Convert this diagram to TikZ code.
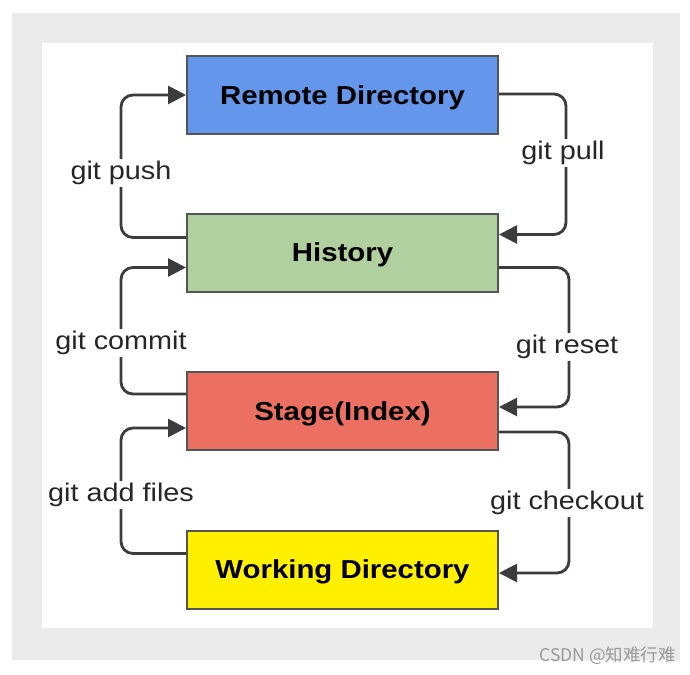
\documentclass[tikz,border=0pt]{standalone}
\usepackage{fontspec}
\setmainfont{Liberation Sans}
\newfontfamily\lab[FakeStretch=1.13]{Liberation Sans}
\newfontfamily\cjk{Noto Sans CJK SC}
\usetikzlibrary{arrows.meta}
\definecolor{bgrey}{HTML}{EBEBEB}
\definecolor{cblue}{HTML}{6496EB}
\definecolor{cgreen}{HTML}{B0D0A0}
\definecolor{cred}{HTML}{EB7062}
\definecolor{cyellow}{HTML}{FFF000}
\definecolor{cborder}{HTML}{555555}
\definecolor{cline}{HTML}{3C3C3C}
\tikzset{
  box/.style={draw=cborder, line width=2pt, minimum width=311pt, minimum height=78pt,
    inner sep=0pt, text height=18.6pt, text depth=0pt,
    font={\lab\bfseries\fontsize{26}{30}\selectfont}},
  arr/.style={draw=cline, line width=2.8pt, rounded corners=12pt,
    -{Triangle[length=18pt,width=18pt]}},
  lbl/.style={fill=white, inner sep=2pt, font={\lab\fontsize{25.5}{30}\selectfont}, text=black!85}
}
\begin{document}
\begin{tikzpicture}[x=1pt,y=-1pt]
\useasboundingbox (0,0) rectangle (690,674);
\fill[bgrey] (12,13) rectangle (680,660);
\fill[white] (42,43) rectangle (653,628);

\node[box, fill=cblue]   (remote) at (342.5,95)    {Remote Directory};
\node[box, fill=cgreen]  (hist)   at (342.5,252.5) {History};
\node[box, fill=cred]    (stage)  at (342.5,411)   {Stage(Index)};
\node[box, fill=cyellow] (work)   at (342.5,569.5) {Working Directory};

% left side
\draw[arr] ([yshift=15pt]hist.west) -- ++(-65,0) |- (remote.west);
\draw[arr] ([yshift=17pt]stage.west) -- ++(-65,0) |- ([yshift=-15pt]hist.west);
\draw[arr] ([yshift=16pt]work.west) -- ++(-65,0) |- ([yshift=-17pt]stage.west);
% right side
\draw[arr] ([yshift=1pt]remote.east) -- ++(67,0) |- ([yshift=18pt]hist.east);
\draw[arr] ([yshift=-15pt]hist.east) -- ++(70,0) |- ([yshift=4pt]stage.east);
\draw[arr] ([yshift=-21pt]stage.east) -- ++(70,0) |- ([yshift=-3.5pt]work.east);

\node[lbl] (lpush)   at (121,173) {git push};
\node[lbl] (lcommit) at (121,343) {git commit};
\node[lbl] (ladd)    at (121,495) {git add files};
\node[lbl] (lpull)   at (563,153) {git pull};
\node[lbl] (lreset)  at (567,347) {git reset};
\node[lbl] (lcheck)  at (567,503) {git checkout};

\node[text=black!40, font={\cjk\fontsize{17.5}{20}\selectfont}, anchor=east, inner sep=0pt] (wm) at (676,656) {CSDN @知难行难};
\end{tikzpicture}
\end{document}
